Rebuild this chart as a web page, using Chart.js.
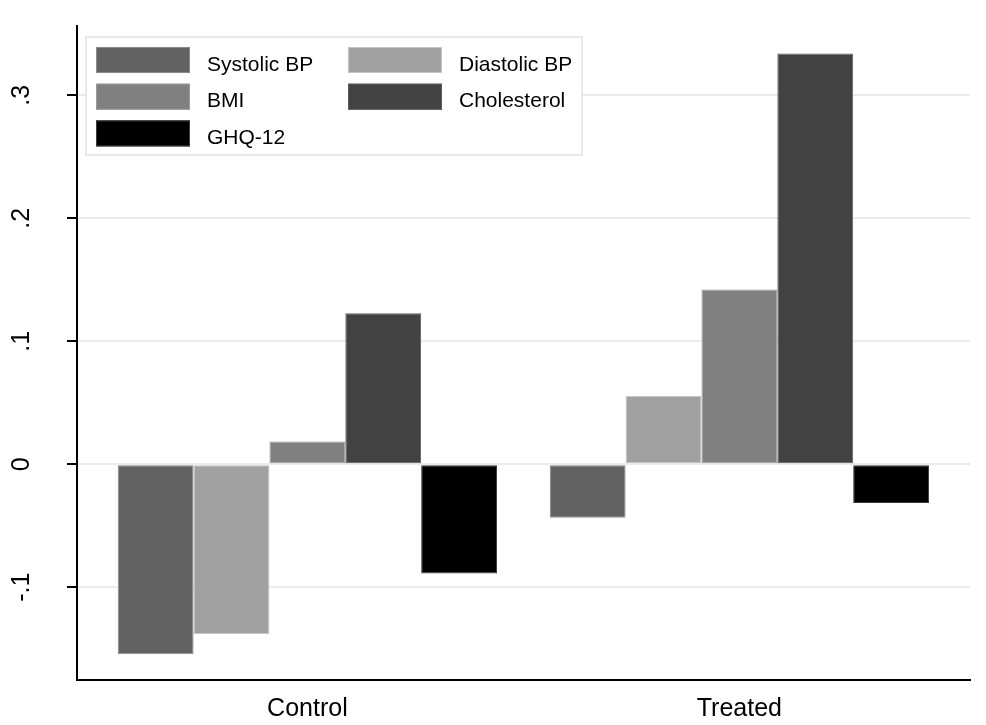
<!DOCTYPE html>
<html>
<head>
<meta charset="utf-8">
<script src="https://cdn.jsdelivr.net/npm/chart.js@4/dist/chart.umd.min.js"></script>
<style>
  html, body { margin: 0; padding: 0; background: #fff; }
  #wrap { width: 986px; height: 725px; position: relative; }
</style>
</head>
<body>
<div id="wrap"><canvas id="myChart" width="986" height="725"></canvas></div>
<script>
// data
const groups = ['Control', 'Treated'];
const seriesNames = ['Systolic BP', 'Diastolic BP', 'BMI', 'Cholesterol', 'GHQ-12'];
const systolic = [-0.1545, -0.0434];
const diastolic = [-0.138, 0.0555];
const bmi = [0.0185, 0.142];
const cholesterol = [0.1228, 0.334];
const ghq12 = [-0.0888, -0.0315];
const yTickValues = [-0.1, 0, 0.1, 0.2, 0.3];
const yTickLabels = ['-.1', '0', '.1', '.2', '.3'];

const seriesValues = [systolic, diastolic, bmi, cholesterol, ghq12];
const fills = ['#626262', '#a1a1a1', '#808080', '#424242', '#000000'];
const edges = ['#8a8a8a', '#c4c4c4', '#9a9a9a', '#5c5c5c', '#3c3c3c'];
const FONT = '"Liberation Sans", Arial, sans-serif';

// build datasets (x is the group index on a linear axis)
let datasets = [];
for (let s = 0; s < seriesNames.length; ++s) {
    datasets.push({
        label: seriesNames[s],
        data: groups.map(function(g, i) { return { x: i, y: seriesValues[s][i] }; }),
        backgroundColor: fills[s],
        borderColor: edges[s],
        borderWidth: 1,
        borderSkipped: false,
        categoryPercentage: 0.878,
        barPercentage: 1
    });
}

// two-column legend drawn inside the plot, top left
const boxLegend = {
    id: 'boxLegend',
    afterDatasetsDraw(chart) {
        const ctx = chart.ctx;
        const area = chart.chartArea;
        const bx = area.left + 9, by = area.top + 11;
        ctx.save();
        ctx.fillStyle = '#fff';
        ctx.fillRect(bx, by, 496, 118);
        ctx.strokeStyle = '#e2e2e2';
        ctx.lineWidth = 1.5;
        ctx.strokeRect(bx, by, 496, 118);
        ctx.font = '21px ' + FONT;
        ctx.textBaseline = 'alphabetic';
        ctx.textAlign = 'left';
        chart.data.datasets.forEach(function(ds, i) {
            let col = i % 2;
            let row = Math.floor(i / 2);
            let kx = bx + 10 + col * 252;
            let ky = by + 10 + row * 36.7;
            ctx.fillStyle = ds.backgroundColor;
            ctx.fillRect(kx, ky, 94, 26);
            ctx.strokeStyle = ds.borderColor;
            ctx.lineWidth = 1;
            ctx.strokeRect(kx + 0.5, ky + 0.5, 93, 25);
            ctx.fillStyle = '#000';
            ctx.fillText(ds.label, kx + 111, ky + 23.5);
        });
        ctx.restore();
    }
};

const config = {
    type: 'bar',
    data: { datasets: datasets },
    options: {
        responsive: false,
        animation: false,
        layout: { padding: { left: 0, right: 16, top: 26, bottom: 0 } },
        plugins: {
            legend: { display: false },
            tooltip: { enabled: false }
        },
        scales: {
            x: {
                type: 'linear',
                offset: false,
                min: -0.5333,
                max: 1.5338,
                afterBuildTicks: function(scale) {
                    scale.ticks = groups.map(function(g, i) { return { value: i }; });
                },
                afterFit: function(scale) {
                    scale.height = 45;
                    scale.paddingLeft = 0;
                    scale.paddingRight = 0;
                },
                grid: { display: true, drawOnChartArea: false, drawTicks: false },
                border: { display: true, color: '#000', width: 2 },
                ticks: {
                    padding: 14,
                    color: '#000',
                    maxRotation: 0,
                    font: { family: FONT, size: 25 },
                    callback: function(value) { return groups[value]; }
                }
            },
            y: {
                type: 'linear',
                min: -0.1754,
                max: 0.3563,
                afterBuildTicks: function(scale) {
                    scale.ticks = yTickValues.map(function(v) { return { value: v }; });
                },
                afterFit: function(scale) {
                    scale.width = 77;
                    scale.paddingTop = 0;
                    scale.paddingBottom = 0;
                },
                grid: { color: '#ebebeb', lineWidth: 2, tickColor: '#000', tickLength: 10, tickWidth: 2 },
                border: { display: true, color: '#000', width: 2 },
                ticks: {
                    color: '#000',
                    padding: 30,
                    crossAlign: 'center',
                    minRotation: 90,
                    maxRotation: 90,
                    font: { family: FONT, size: 25 },
                    callback: function(value, index) { return yTickLabels[index]; }
                }
            }
        }
    },
    plugins: [boxLegend]
};

const myChart = new Chart(document.getElementById('myChart'), config);
</script>
</body>
</html>
